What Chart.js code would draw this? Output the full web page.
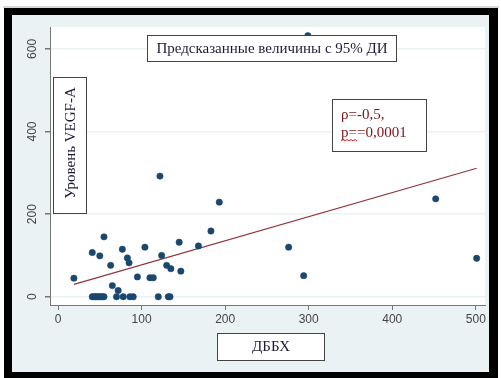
<!DOCTYPE html>
<html>
<head>
<meta charset="utf-8">
<script src="https://cdn.jsdelivr.net/npm/chart.js@4/dist/chart.umd.min.js"></script>
<style>
  html, body { margin: 0; padding: 0; background: #ffffff; }
  canvas { display: block; }
</style>
</head>
<body>
<canvas id="c" width="501" height="378"></canvas>
<script>
// ДББХ (x) and VEGF-A level (y) for each patient
const dbbx = [19, 41, 50, 55, 63, 65, 72, 77, 83, 85, 95, 104, 110, 114, 122, 124, 130, 135, 145, 147,
              168, 183, 193, 276, 294, 299, 452, 501,
              41, 43, 45, 47, 49, 51, 53, 55, 70, 78, 86, 90, 120, 132, 134];
const vegf = [45, 107, 99, 145, 76, 27, 15, 115, 94, 82, 48, 120, 46, 46, 292, 100, 76, 68, 132, 62,
              123, 159, 229, 120, 51, 632, 237, 93,
              0, 0, 0, 0, 0, 0, 0, 0, 0, 0, 0, 0, 0, 0, 0];

// Linear fit (predicted values)
const fitX = [19, 501];
const fitY = [30, 311];

// Axis ticks
const xTicks = [0, 100, 200, 300, 400, 500];
const yTicks = [0, 200, 400, 600];

// Texts
const titleText = 'Предсказанные величины с 95% ДИ';
const yTitle = 'Уровень VEGF-A';
const xTitle = 'ДББХ';
const statLines = ['ρ=-0,5,', 'p==0,0001'];

const NAVY = '#1a476f';
const MAROON = '#90353b';
const REGION = '#eaf2f3';
const SERIF = '"Liberation Serif", "Times New Roman", serif';

function box(ctx, x, y, w, h) {
  ctx.fillStyle = '#ffffff';
  ctx.fillRect(x, y, w, h);
  ctx.strokeStyle = '#444444';
  ctx.lineWidth = 1;
  ctx.strokeRect(x + 0.5, y + 0.5, w - 1, h - 1);
}

const framePlugin = {
  id: 'frame',
  beforeDraw(chart) {
    const ctx = chart.ctx;
    const a = chart.chartArea;
    ctx.save();
    ctx.fillStyle = '#ffffff';
    ctx.fillRect(0, 0, chart.width, chart.height);
    ctx.fillStyle = '#d8d8d8';
    ctx.fillRect(3, 6, 496, 2);
    ctx.fillStyle = '#000000';
    ctx.fillRect(4, 8, 494, 370);
    ctx.fillStyle = REGION;
    ctx.fillRect(12, 15, 477, 357);
    ctx.fillStyle = '#ffffff';
    ctx.fillRect(a.left, a.top, a.right - a.left, a.bottom - a.top);
    ctx.restore();
  },
  afterDraw(chart) {
    const ctx = chart.ctx;
    ctx.save();
    ctx.textBaseline = 'middle';

    // title
    box(ctx, 147, 35, 250, 27);
    ctx.fillStyle = '#1c1c3a';
    ctx.font = '15px ' + SERIF;
    ctx.textAlign = 'center';
    ctx.fillText(titleText, 272, 49);

    // y-axis title
    box(ctx, 53, 77, 34, 137);
    ctx.save();
    ctx.translate(71, 143);
    ctx.rotate(-Math.PI / 2);
    ctx.fillStyle = '#1c1c3a';
    ctx.font = '15px ' + SERIF;
    ctx.textAlign = 'center';
    ctx.fillText(yTitle, 0, 0);
    ctx.restore();

    // statistics note
    box(ctx, 332, 99, 95, 53);
    ctx.fillStyle = '#7a1515';
    ctx.font = '15px ' + SERIF;
    ctx.textAlign = 'left';
    ctx.fillText(statLines[0], 341, 115);
    ctx.fillText(statLines[1], 341, 133);
    // wavy underline under "p"
    ctx.strokeStyle = '#d02020';
    ctx.lineWidth = 1;
    ctx.beginPath();
    for (let i = 0; i <= 8; i++) {
      const px = 341 + i * 2;
      const py = 141 + (i % 2 === 0 ? 0 : -1.5);
      if (i === 0) ctx.moveTo(px, py); else ctx.lineTo(px, py);
    }
    ctx.stroke();

    // x-axis title
    box(ctx, 217, 333, 108, 28);
    ctx.fillStyle = '#1c1c3a';
    ctx.font = '15px ' + SERIF;
    ctx.textAlign = 'center';
    ctx.fillText(xTitle, 271, 347.5);
    ctx.restore();
  }
};

const points = dbbx.map((x, i) => ({ x: x, y: vegf[i] }));
const fit = fitX.map((x, i) => ({ x: x, y: fitY[i] }));

new Chart(document.getElementById('c'), {
  type: 'scatter',
  data: {
    datasets: [
      {
        label: 'fit',
        data: fit,
        showLine: true,
        borderColor: MAROON,
        borderWidth: 1.2,
        pointRadius: 0,
        fill: false,
        order: 2
      },
      {
        label: 'VEGF-A',
        data: points,
        backgroundColor: NAVY,
        borderColor: NAVY,
        borderWidth: 0.5,
        pointRadius: 3.2,
        order: 1
      }
    ]
  },
  options: {
    responsive: false,
    devicePixelRatio: 1,
    animation: false,
    layout: { padding: { left: 12, right: 16, top: 27, bottom: 0 } },
    plugins: {
      legend: { display: false },
      tooltip: { enabled: false }
    },
    scales: {
      x: {
        type: 'linear',
        min: -9.6,
        max: 511,
        afterBuildTicks: s => { s.ticks = xTicks.map(v => ({ value: v })); },
        afterFit: s => { s.height = 73; },
        border: { display: true, color: '#777777', width: 1 },
        grid: { drawOnChartArea: false, drawTicks: true, tickLength: 5, tickColor: '#777777', color: '#777777' },
        ticks: {
          color: '#444444',
          padding: 2,
          maxRotation: 0,
          font: { family: '"Liberation Sans", Arial, sans-serif', size: 12 }
        }
      },
      y: {
        type: 'linear',
        min: -20,
        max: 653,
        afterBuildTicks: s => { s.ticks = yTicks.map(v => ({ value: v })); },
        afterFit: s => { s.width = 38; },
        border: { display: true, color: '#777777', width: 1 },
        grid: { drawOnChartArea: true, drawTicks: true, tickLength: 5, tickColor: '#777777', color: REGION, lineWidth: 1.5 },
        ticks: {
          color: '#444444',
          padding: 2,
          minRotation: 90,
          maxRotation: 90,
          crossAlign: 'center',
          font: { family: '"Liberation Sans", Arial, sans-serif', size: 12 }
        }
      }
    }
  },
  plugins: [framePlugin]
});
</script>
</body>
</html>
